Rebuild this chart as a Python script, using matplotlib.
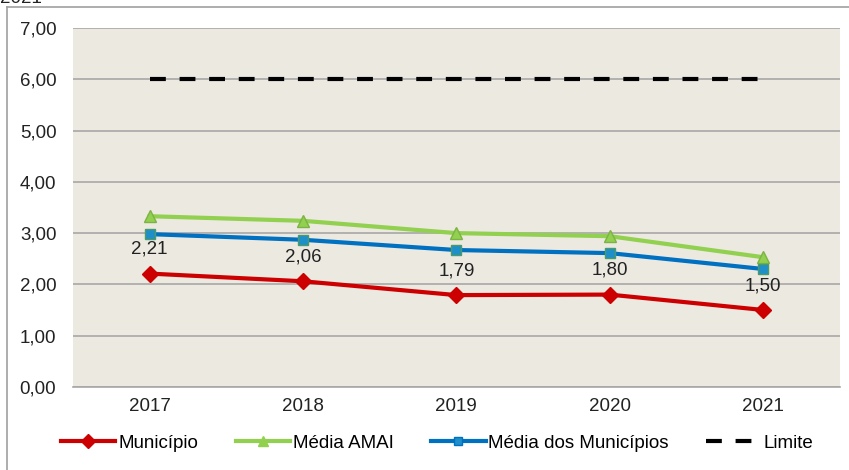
import numpy as np
import matplotlib.pyplot as plt
from matplotlib.lines import Line2D

plt.rcParams['font.family'] = ['Liberation Sans', 'DejaVu Sans']

anos = ['2017', '2018', '2019', '2020', '2021']
municipio = [2.21, 2.06, 1.79, 1.80, 1.50]
media_amai = [3.33, 3.24, 3.00, 2.94, 2.53]
media_municipios = [2.98, 2.87, 2.67, 2.61, 2.30]
limite = [6.0, 6.0, 6.0, 6.0, 6.0]

FS = 13.5
DASH = (0, (3.8, 3.3))

fig = plt.figure(figsize=(8.49, 4.70), dpi=100)
ax = fig.add_axes([0.086, 0.177, 0.903, 0.763])
ax.set_facecolor('#ECE9E1')

x = np.arange(len(anos))
ax.plot(x, limite, color='black', lw=3, ls=DASH, zorder=3)
ax.plot(x, media_amai, color='#92D050', lw=3, marker='^', ms=8,
        markerfacecolor='#92D050', markeredgecolor='#7CB342', zorder=4)
ax.plot(x, media_municipios, color='#0070C0', lw=3, marker='s', ms=7,
        markerfacecolor='#1F8FC9', markeredgecolor='#4A9A6A', zorder=5)
ax.plot(x, municipio, color='#CC0000', lw=3, marker='D', ms=8,
        markerfacecolor='#CC0000', markeredgecolor='#CC0000', zorder=6)

for xi, v in zip(x, municipio):
    ax.annotate(('%.2f' % v).replace('.', ','), (xi, v), xytext=(0, 17.5),
                textcoords='offset points', ha='center', va='center',
                fontsize=FS, color='#222222', zorder=7)

ax.set_xlim(-0.5, 4.5)
ax.set_ylim(0, 7)
ax.set_yticks(np.arange(0, 8, 1))
ax.set_yticklabels([('%.2f' % t).replace('.', ',') for t in range(8)], fontsize=FS)
ax.set_xticks(x)
ax.set_xticklabels(anos, fontsize=FS)
ax.tick_params(length=0, colors='#222222')
ax.tick_params(axis='y', pad=12)
ax.tick_params(axis='x', pad=8)
ax.grid(axis='y', color='#A8A8A8', lw=1.2)
ax.set_axisbelow(True)
for s in ['left', 'right', 'top']:
    ax.spines[s].set_visible(False)
ax.spines['bottom'].set_color('#A8A8A8')
ax.spines['bottom'].set_linewidth(1.2)

handles = [
    Line2D([], [], color='#CC0000', lw=3, marker='D', ms=7),
    Line2D([], [], color='#92D050', lw=3, marker='^', ms=7),
    Line2D([], [], color='#0070C0', lw=3, marker='s', ms=6, markerfacecolor='#1F8FC9'),
    Line2D([], [], color='black', lw=3, ls=DASH),
]
fig.legend(handles, ['Município', 'Média AMAI', 'Média dos Municípios', 'Limite'],
           loc='center', bbox_to_anchor=(0.515, 0.057), ncol=4, frameon=False,
           fontsize=FS, handlelength=2.9, handletextpad=0.15, columnspacing=2.0)

# borda do gráfico
fig.add_artist(Line2D([0.008, 0.008], [0.0, 0.985], color='#A0A0A0', lw=1.2))
fig.add_artist(Line2D([0.008, 1.0], [0.985, 0.985], color='#A0A0A0', lw=1.2))
fig.text(0.0, 1.003, '2021', fontsize=FS, va='center', ha='left', color='#222222')

fig.savefig('out.png', dpi=100)
